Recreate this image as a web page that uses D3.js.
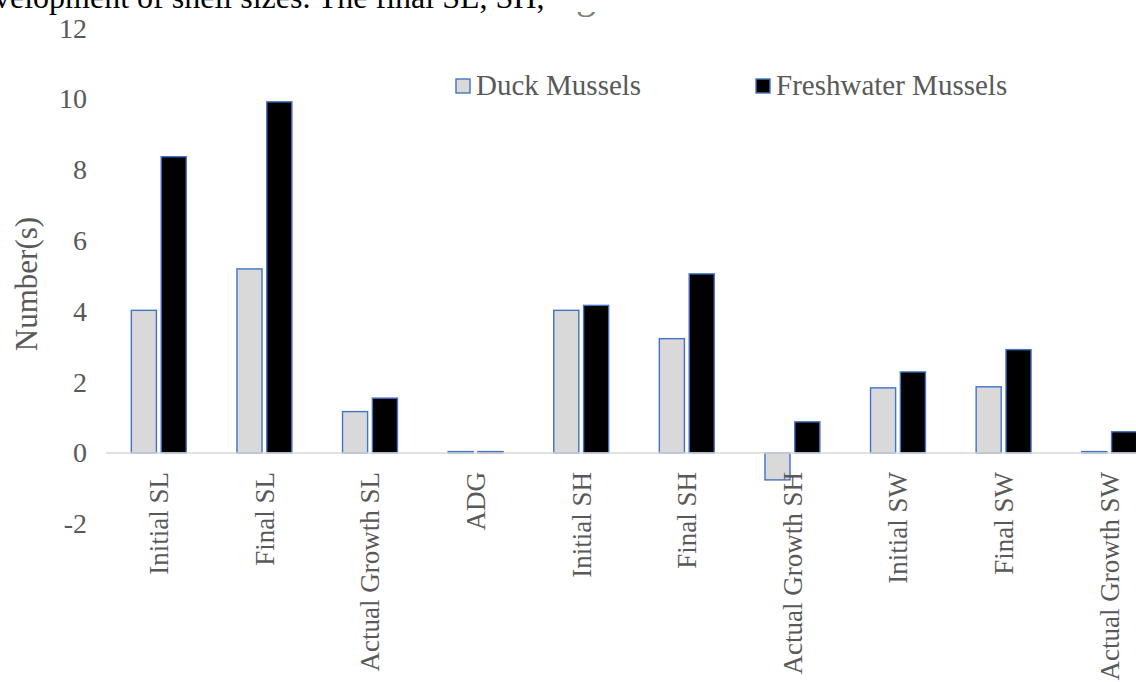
<!DOCTYPE html>
<html lang="en">
  <head>
    <meta charset="UTF-8" />
    <title>mussel shell growth</title>
    <script src="https://cdn.jsdelivr.net/npm/d3@7"></script>
    <style>
      body {
        margin: 0;
        background: #ffffff;
      }
      text {
        font-family: "Liberation Serif", "Times New Roman", serif;
      }
    </style>
  </head>
  <body>
    <svg id="chart" width="1136" height="682"></svg>
    <script>
      // values
      const categories = [
        "Initial SL",
        "Final SL",
        "Actual Growth SL",
        "ADG",
        "Initial SH",
        "Final SH",
        "Actual Growth SH",
        "Initial SW",
        "Final SW",
        "Actual Growth SW",
      ];
      const duckMussels = [4.03, 5.2, 1.17, 0.04, 4.03, 3.23, -0.76, 1.84, 1.87, 0.04];
      const freshwaterMussels = [8.37, 9.92, 1.55, 0.04, 4.17, 5.06, 0.88, 2.29, 2.92, 0.6];
      const seriesNames = ["Duck Mussels", "Freshwater Mussels"];
      const yTicks = [-2, 0, 2, 4, 6, 8, 10, 12];

      const svg = d3.select("#chart");
      const grey = "#595959";
      const edge = "#4472c4";
      const fills = ["#d9d9d9", "#000000"];

      // scales
      let x = d3
        .scaleBand()
        .domain(categories)
        .range([106, 1162])
        .paddingInner(0.48)
        .paddingOuter(0.24);
      let xInner = d3
        .scaleBand()
        .domain(seriesNames)
        .range([0, x.bandwidth()])
        .paddingInner(0.16);
      let y = d3.scaleLinear().domain([-2, 12]).range([523.8, 28.2]);

      // text line of the page above the chart (cut off)
      svg
        .append("text")
        .attr("x", -6)
        .attr("y", 8)
        .attr("font-size", 32)
        .attr("fill", "#000")
        .text("velopment of shell sizes. The final SL, SH,");

      // descender of the hidden chart title
      svg
        .append("clipPath")
        .attr("id", "titleClip")
        .append("rect")
        .attr("x", 560)
        .attr("y", 12)
        .attr("width", 60)
        .attr("height", 10);
      svg
        .append("text")
        .attr("clip-path", "url(#titleClip)")
        .attr("x", 576)
        .attr("y", 8)
        .attr("font-size", 40)
        .attr("fill", "#7f7f7f")
        .text("g");

      // y axis: labels only
      let yAxis = svg
        .append("g")
        .attr("transform", "translate(87,0)")
        .call(
          d3
            .axisLeft(y)
            .tickValues(yTicks)
            .tickFormat((d) => String(d))
            .tickSize(0)
            .tickPadding(0)
        );
      yAxis.select(".domain").remove();
      yAxis
        .selectAll("text")
        .attr("font-size", 28)
        .attr("fill", grey)
        .attr("font-family", "Liberation Serif, serif");

      svg
        .append("text")
        .attr("transform", "translate(37,284) rotate(-90)")
        .attr("text-anchor", "middle")
        .attr("font-size", 31)
        .attr("fill", grey)
        .text("Number(s)");

      // bars
      let rows = categories.map((c, i) => ({
        cat: c,
        vals: [duckMussels[i], freshwaterMussels[i]],
      }));
      let groups = svg
        .append("g")
        .selectAll("g")
        .data(rows)
        .join("g")
        .attr("transform", (d) => `translate(${x(d.cat)},0)`);
      groups
        .selectAll("rect")
        .data((d) => d.vals.map((v, j) => ({ v: v, s: seriesNames[j], j: j })))
        .join("rect")
        .attr("x", (d) => xInner(d.s))
        .attr("width", xInner.bandwidth())
        .attr("y", (d) => y(Math.max(0, d.v)))
        .attr("height", (d) => Math.abs(y(d.v) - y(0)))
        .attr("fill", (d) => fills[d.j])
        .attr("stroke", edge)
        .attr("stroke-width", 1.4);

      // zero line
      svg
        .append("line")
        .attr("x1", 106)
        .attr("x2", 1136)
        .attr("y1", y(0))
        .attr("y2", y(0))
        .attr("stroke", "#d9d9d9")
        .attr("stroke-width", 1.5);

      // x labels
      svg
        .append("g")
        .selectAll("text")
        .data(categories)
        .join("text")
        .attr(
          "transform",
          (d) => `translate(${x(d) + x.bandwidth() / 2},472) rotate(-90)`
        )
        .attr("text-anchor", "end")
        .attr("dy", "0.35em")
        .attr("font-size", 27)
        .attr("fill", grey)
        .text((d) => d);

      // legend
      let legendX = [456, 756];
      let legend = svg
        .append("g")
        .selectAll("g")
        .data(seriesNames)
        .join("g")
        .attr("transform", (d, i) => `translate(${legendX[i]},79)`);
      legend
        .append("rect")
        .attr("width", 14)
        .attr("height", 14)
        .attr("fill", (d, i) => fills[i])
        .attr("stroke", edge)
        .attr("stroke-width", 1.4);
      legend
        .append("text")
        .attr("x", 20)
        .attr("y", 16)
        .attr("font-size", 29)
        .attr("fill", grey)
        .text((d) => d);
    </script>
  </body>
</html>
